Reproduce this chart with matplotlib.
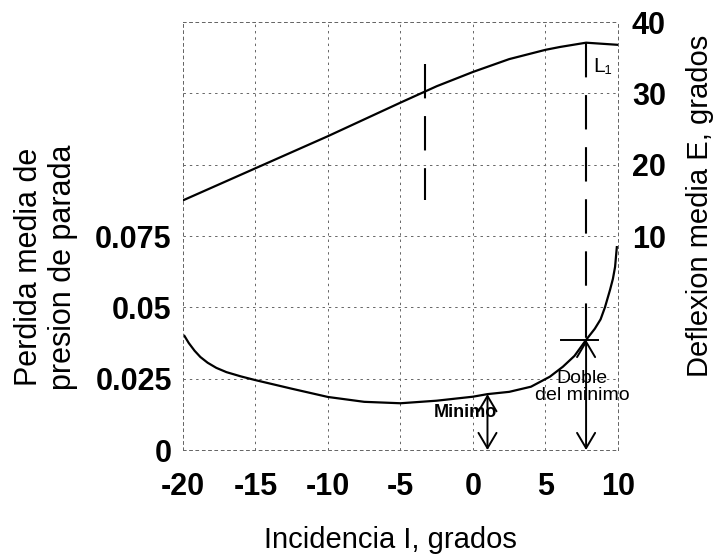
import matplotlib
matplotlib.use("Agg")
import matplotlib.pyplot as plt

plt.rcParams["font.family"] = ["Liberation Sans", "DejaVu Sans"]
plt.rcParams["axes.unicode_minus"] = False

# perdida media de presion de parada vs incidencia
loss_x = [-19.9, -19.6, -19.2, -18.8, -18.3, -17.7, -17.0, -16.0, -15.0, -12.5, -10.0, -7.5, -5.0,
          -2.5, 0.0, 1.0, 2.5, 4.0, 5.3, 6.2, 7.0, 7.8, 8.4, 8.8, 9.1, 9.45, 9.65, 9.8, 9.92]
loss_y = [0.0400, 0.0375, 0.0348, 0.0326, 0.0306, 0.0288, 0.0273, 0.0258, 0.0245, 0.0215, 0.0186,
          0.0169, 0.0164, 0.0173, 0.0187, 0.0196, 0.0204, 0.0222, 0.0257, 0.0292, 0.0330, 0.0386,
          0.0425, 0.0458, 0.0500, 0.0561, 0.0600, 0.0642, 0.0711]

# deflexion media E vs incidencia
defl_x = [-20, -15, -10, -5, -2.5, 0, 2.5, 5, 6.0, 7.8, 10]
defl_y = [15.0, 19.5, 24.0, 28.7, 31.0, 33.0, 34.8, 36.1, 36.5, 37.1, 36.8]

x_ticks = [-20, -15, -10, -5, 0, 5, 10]
left_ticks = [0, 0.025, 0.05, 0.075, 0.1, 0.125, 0.15]
left_labels = ["0", "0.025", "0.05", "0.075", "", "", ""]
right_ticks = [-20, -10, 0, 10, 20, 30, 40]
right_labels = ["", "", "", "10", "20", "30", "40"]

# marcas
min_x, min_loss = 1.0, 0.0196
doble_x, doble_loss = 7.8, 0.0386
mark_x, mark_top, mark_bottom = -3.3, 34.1, 15.0
l1_top = 37.1


def loss_to_e(v):
    return v / 0.025 * 10 - 20


fig, ax = plt.subplots(figsize=(7.19, 5.57), dpi=100)
fig.subplots_adjust(left=0.2545, right=0.8595, bottom=0.192, top=0.9605)
ax2 = ax.twinx()

ax.set_xlim(-20, 10)
ax.set_ylim(0, 0.15)
ax2.set_ylim(-20, 40)

grid_style = dict(color="0.4", linestyle=(0, (2.5, 4)), linewidth=0.7)
ax.set_xticks(x_ticks)
ax.set_yticks(left_ticks)
ax.set_yticklabels(left_labels)
ax2.set_yticks(right_ticks)
ax2.set_yticklabels(right_labels)
ax.grid(True, **grid_style)
for a in (ax, ax2):
    for s in a.spines.values():
        s.set_linestyle((0, (2.5, 4)))
        s.set_linewidth(0.7)
        s.set_edgecolor("0.4")

ax.tick_params(axis="x", length=0, pad=16, labelsize=22)
ax.tick_params(axis="y", length=0, pad=8, labelsize=22)
ax2.tick_params(axis="y", length=0, pad=10, labelsize=22)
for lab in ax.get_xticklabels() + ax.get_yticklabels() + ax2.get_yticklabels():
    lab.set_fontweight("bold")

ax.plot(loss_x, loss_y, color="black", linewidth=1.6)
ax2.plot(defl_x, defl_y, color="black", linewidth=1.6)

# lineas discontinuas
ax2.plot([mark_x, mark_x], [mark_top, mark_bottom], color="black", linewidth=1.5,
         linestyle=(0, (16.5, 8.5)))
ax2.plot([doble_x, doble_x], [l1_top, loss_to_e(doble_loss)], color="black", linewidth=1.5,
         linestyle=(0, (16.5, 8.5)))
ax2.text(8.97, 33.8, "L₁", fontsize=15, ha="center", va="center")

# flechas
arrow = dict(arrowstyle="<->,head_length=1.1,head_width=0.65", color="black", lw=1.4,
             shrinkA=0, shrinkB=0, mutation_scale=10)
ax.annotate("", xy=(min_x, 0), xytext=(min_x, min_loss), arrowprops=arrow)
ax.annotate("", xy=(doble_x, 0), xytext=(doble_x, doble_loss), arrowprops=arrow)
ax.plot([6.1, 8.6], [doble_loss, doble_loss], color="black", linewidth=1.4)

ax.text(-0.55, 0.0133, "Minimo", fontsize=13, fontweight="bold", ha="center", va="center")
ax.text(7.52, 0.0221, "Doble\ndel minimo", fontsize=14, ha="center", va="center",
        linespacing=1.0)

fig.text(390 / 719, 1 - 548 / 557, "Incidencia I, grados", fontsize=21, ha="center",
         va="baseline")
fig.text(46 / 719, 1 - 267 / 557, "Perdida media de\npresion de parada", fontsize=22,
         rotation=90, ha="center", va="center", multialignment="center")
fig.text(700 / 719, 1 - 206 / 557, "Deflexion media E, grados", fontsize=21,
         rotation=90, ha="center", va="center")

fig.savefig("out.png", dpi=100)
